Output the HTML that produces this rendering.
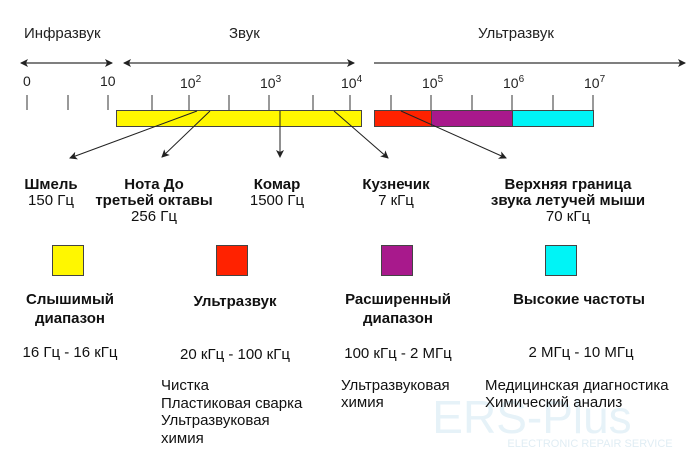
<!DOCTYPE html>
<html><head><meta charset="utf-8"><style>
html,body{margin:0;padding:0;background:#fff;}
svg{display:block;font-family:"Liberation Sans",sans-serif;}
</style></head><body>
<svg width="700" height="471" viewBox="0 0 700 471" xmlns="http://www.w3.org/2000/svg">
<defs>
<marker id="a" markerWidth="8" markerHeight="8" refX="7" refY="4" orient="auto" markerUnits="userSpaceOnUse"><path d="M0,0 L8,4 L0,8 L2,4 Z" fill="#222"/></marker>
<marker id="b" markerWidth="8" markerHeight="8" refX="1" refY="4" orient="auto" markerUnits="userSpaceOnUse"><path d="M8,0 L0,4 L8,8 L6,4 Z" fill="#222"/></marker>
</defs>
<text x="532" y="433" font-size="46" fill="#e6f2f8" text-anchor="middle">ERS-Plus</text>
<text x="590" y="447" font-size="11" fill="#e0edf4" text-anchor="middle">ELECTRONIC REPAIR SERVICE</text>
<g font-size="15" fill="#222">
<text x="24" y="38">Инфразвук</text>
<text x="229" y="38">Звук</text>
<text x="478" y="38">Ультразвук</text>
</g>
<g stroke="#333" stroke-width="1.3">
<line x1="21" y1="63" x2="112" y2="63" marker-start="url(#b)" marker-end="url(#a)"/>
<line x1="124" y1="63" x2="354" y2="63" marker-start="url(#b)" marker-end="url(#a)"/>
<line x1="374" y1="63" x2="685" y2="63" marker-end="url(#a)"/>
</g>
<g font-size="14" fill="#222">
<text x="23" y="86">0</text>
<text x="100" y="86">10</text>
<text x="180" y="88">10<tspan font-size="10" dy="-6">2</tspan></text>
<text x="260" y="88">10<tspan font-size="10" dy="-6">3</tspan></text>
<text x="341" y="88">10<tspan font-size="10" dy="-6">4</tspan></text>
<text x="422" y="88">10<tspan font-size="10" dy="-6">5</tspan></text>
<text x="503" y="88">10<tspan font-size="10" dy="-6">6</tspan></text>
<text x="584" y="88">10<tspan font-size="10" dy="-6">7</tspan></text>
</g>
<g stroke="#333" stroke-width="1">
<line x1="27" y1="95" x2="27" y2="110"/><line x1="68" y1="95" x2="68" y2="110"/><line x1="108" y1="95" x2="108" y2="110"/>
<line x1="152" y1="95" x2="152" y2="110"/><line x1="189" y1="95" x2="189" y2="110"/><line x1="229" y1="95" x2="229" y2="110"/>
<line x1="269" y1="95" x2="269" y2="110"/><line x1="313" y1="95" x2="313" y2="110"/><line x1="350" y1="95" x2="350" y2="110"/>
<line x1="391" y1="95" x2="391" y2="110"/><line x1="431" y1="95" x2="431" y2="110"/><line x1="472" y1="95" x2="472" y2="110"/>
<line x1="512" y1="95" x2="512" y2="110"/><line x1="553" y1="95" x2="553" y2="110"/><line x1="593" y1="95" x2="593" y2="110"/>
</g>
<g stroke="#444" stroke-width="1">
<rect x="116.5" y="110.5" width="245" height="16" fill="#fff700"/>
<rect x="374.5" y="110.5" width="57" height="16" fill="#ff2200"/>
<rect x="431.5" y="110.5" width="81" height="16" fill="#a8198c"/>
<rect x="512.5" y="110.5" width="81" height="16" fill="#00f4f6"/>
</g>
<g stroke="#222" stroke-width="1">
<line x1="197" y1="111" x2="70" y2="158" marker-end="url(#a)"/>
<line x1="210" y1="111" x2="162" y2="157" marker-end="url(#a)"/>
<line x1="280" y1="111" x2="280" y2="157" marker-end="url(#a)"/>
<line x1="334" y1="111" x2="388" y2="158" marker-end="url(#a)"/>
<line x1="401" y1="111" x2="506" y2="158" marker-end="url(#a)"/>
</g>
<g font-size="15" fill="#111" text-anchor="middle">
<g font-weight="bold">
<text x="51" y="189">Шмель</text>
<text x="154" y="189">Нота До</text>
<text x="154" y="205">третьей октавы</text>
<text x="277" y="189">Комар</text>
<text x="396" y="189">Кузнечик</text>
<text x="568" y="189">Верхняя граница</text>
<text x="568" y="205">звука летучей мыши</text>
</g>
<text x="51" y="205">150 Гц</text>
<text x="154" y="221">256 Гц</text>
<text x="277" y="205">1500 Гц</text>
<text x="396" y="205">7 кГц</text>
<text x="568" y="221">70 кГц</text>
</g>
<g stroke="#444" stroke-width="1">
<rect x="52.5" y="245.5" width="31" height="30" fill="#fff700"/>
<rect x="216.5" y="245.5" width="31" height="30" fill="#ff2200"/>
<rect x="381.5" y="245.5" width="31" height="30" fill="#a8198c"/>
<rect x="545.5" y="245.5" width="31" height="30" fill="#00f4f6"/>
</g>
<g font-size="15" fill="#111" text-anchor="middle">
<g font-weight="bold">
<text x="70" y="304">Слышимый</text>
<text x="70" y="323">диапазон</text>
<text x="235" y="306">Ультразвук</text>
<text x="398" y="304">Расширенный</text>
<text x="398" y="323">диапазон</text>
<text x="579" y="304">Высокие частоты</text>
</g>
<text x="70" y="357">16 Гц - 16 кГц</text>
<text x="235" y="359">20 кГц - 100 кГц</text>
<text x="398" y="358">100 кГц - 2 МГц</text>
<text x="581" y="357">2 МГц - 10 МГц</text>
</g>
<g font-size="15" fill="#111">
<text x="161" y="390">Чистка</text>
<text x="161" y="408">Пластиковая сварка</text>
<text x="161" y="425">Ультразвуковая</text>
<text x="161" y="443">химия</text>
<text x="341" y="390">Ультразвуковая</text>
<text x="341" y="407">химия</text>
<text x="485" y="390">Медицинская диагностика</text>
<text x="485" y="407">Химический анализ</text>
</g>
</svg>
</body></html>
